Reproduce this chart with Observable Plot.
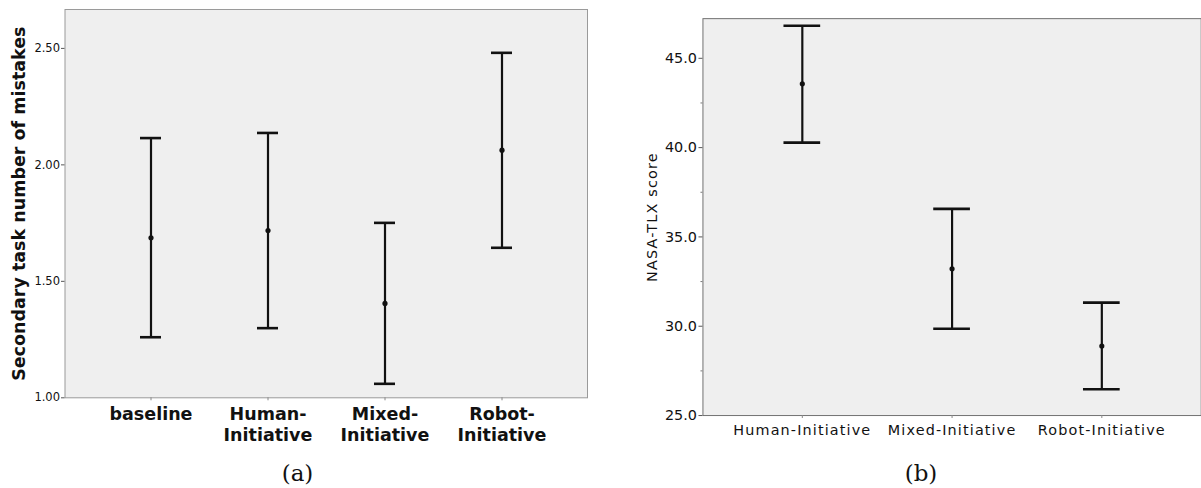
<!DOCTYPE html>
<html>
<head>
<meta charset="utf-8">
<script src="https://cdn.jsdelivr.net/npm/d3@7"></script>
<script src="https://cdn.jsdelivr.net/npm/@observablehq/plot@0.6"></script>
<style>
  html, body { margin: 0; padding: 0; background: #fff; }
  #wrap { position: relative; width: 1201px; height: 488px; overflow: hidden; }
  #pa { position: absolute; left: 0; top: 0; }
  #pb { position: absolute; left: 600px; top: 0; }
  .cap { position: absolute; top: 462px; font-family: "DejaVu Serif", serif; font-size: 23px; line-height: 23px; color: #111; transform: translateX(-50%); white-space: nowrap; }
</style>
</head>
<body>
<div id="wrap">
  <div id="pa"></div>
  <div id="pb"></div>
  <div class="cap" style="left:297.5px">(a)</div>
  <div class="cap" style="left:921px">(b)</div>
</div>
<script>
// ---- Panel (a): secondary task mistakes ----
const catsA = ["baseline", "Human-Initiative", "Mixed-Initiative", "Robot-Initiative"];
const labelsA = ["baseline", "Human-\nInitiative", "Mixed-\nInitiative", "Robot-\nInitiative"];
const meanA = [1.687, 1.718, 1.405, 2.063];
const lowA  = [1.260, 1.299, 1.060, 1.644];
const highA = [2.115, 2.137, 1.751, 2.481];
const yTicksA = [1.0, 1.5, 2.0, 2.5];
const yLabelA = "Secondary task number of mistakes";

// ---- Panel (b): NASA-TLX ----
const catsB = ["Human-Initiative", "Mixed-Initiative", "Robot-Initiative"];
const meanB = [43.57, 33.22, 28.89];
const lowB  = [40.28, 29.86, 26.47];
const highB = [46.82, 36.57, 31.32];
const yTicksB = [25, 30, 35, 40, 45];
const yMinorB = [27.5, 32.5, 37.5, 42.5];
const yLabelB = "NASA-TLX score";

const dataA = catsA.map((c, i) => ({cat: c, mean: meanA[i], lo: lowA[i], hi: highA[i]}));
const dataB = catsB.map((c, i) => ({cat: c, mean: meanB[i], lo: lowB[i], hi: highB[i]}));
const lblA = new Map(catsA.map((c, i) => [c, labelsA[i]]));

const plotA = Plot.plot({
  width: 600, height: 460,
  marginLeft: 64.5, marginRight: 13, marginTop: 9, marginBottom: 62.7,
  style: {fontFamily: "DejaVu Sans", background: "transparent", color: "#111", overflow: "visible"},
  x: {type: "band", domain: catsA, paddingInner: 0.817, paddingOuter: 0.625},
  y: {domain: [1, 2.667]},
  marks: [
    Plot.frame({fill: "#efefef", stroke: "#9a9a9a", strokeWidth: 1}),
    Plot.axisY({ticks: yTicksA, tickFormat: d => d.toFixed(2), tickSize: 3.5, tickPadding: 1.5,
                fontSize: 11.5, label: null, stroke: "#555"}),
    Plot.axisX({tickFormat: d => lblA.get(d), tickSize: 3, tickPadding: 4, fontSize: 17.5,
                fontWeight: "bold", lineHeight: 1.2, label: null, stroke: "#888"}),
    Plot.ruleX(dataA, {x: "cat", y1: "lo", y2: "hi", stroke: "#111", strokeWidth: 2.2}),
    Plot.tickY(dataA, {x: "cat", y: "hi", stroke: "#111", strokeWidth: 2.6}),
    Plot.tickY(dataA, {x: "cat", y: "lo", stroke: "#111", strokeWidth: 2.6}),
    Plot.dot(dataA, {x: "cat", y: "mean", r: 2.6, fill: "#111", stroke: "none"}),
    Plot.text([yLabelA], {frameAnchor: "left", textAnchor: "middle", dx: -45.5, rotate: -90,
                fontSize: 17.5, fontWeight: "bold", fill: "#111"})
  ]
});
document.getElementById("pa").appendChild(plotA);

const plotB = Plot.plot({
  width: 606, height: 460,
  marginLeft: 103.3, marginRight: 0.3, marginTop: 18.3, marginBottom: 41.5,
  style: {fontFamily: "DejaVu Sans", background: "transparent", color: "#111", overflow: "visible"},
  x: {type: "band", domain: catsB, paddingInner: 0.755, paddingOuter: 0.539},
  y: {domain: [25, 47.22]},
  marks: [
    Plot.frame({fill: "#efefef", stroke: "#707070", strokeWidth: 1}),
    Plot.axisY({ticks: yTicksB, tickFormat: d => d.toFixed(1), tickSize: 4, tickPadding: 2,
                fontSize: 14.5, label: null, stroke: "#555"}),
    Plot.axisY({ticks: yMinorB, text: null, tickSize: 2, label: null, stroke: "#777"}),
    Plot.axisX({tickSize: 3, tickPadding: 6.5, fontSize: 14.5, label: null, stroke: "#888"}),
    Plot.ruleX(dataB, {x: "cat", y1: "lo", y2: "hi", stroke: "#111", strokeWidth: 2.2}),
    Plot.tickY(dataB, {x: "cat", y: "hi", stroke: "#111", strokeWidth: 2.6}),
    Plot.tickY(dataB, {x: "cat", y: "lo", stroke: "#111", strokeWidth: 2.6}),
    Plot.dot(dataB, {x: "cat", y: "mean", r: 2.6, fill: "#111", stroke: "none"}),
    Plot.text([yLabelB], {frameAnchor: "left", textAnchor: "middle", dx: -51.3, rotate: -90,
                fontSize: 14.5, fill: "#111"})
  ]
});
document.getElementById("pb").appendChild(plotB);

// letter spacing to match the wider original typeface in panel (b)
d3.select(plotB).selectAll('g[aria-label="x-axis tick label"] text').attr("letter-spacing", 1.15);
d3.select(plotB).selectAll('g[aria-label="text"] text').attr("letter-spacing", 1.2);
</script>
</body>
</html>
